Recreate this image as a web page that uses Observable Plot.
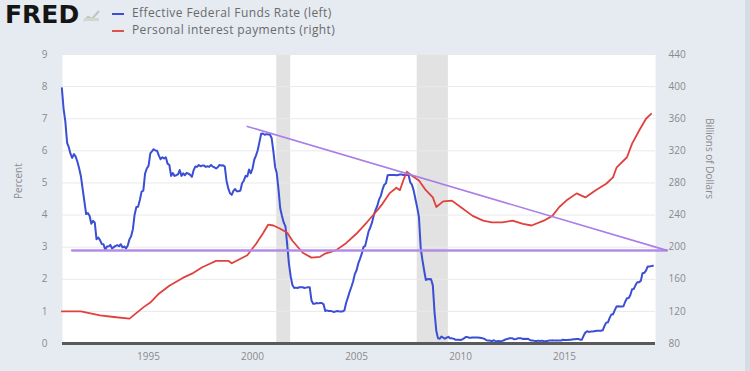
<!DOCTYPE html>
<html><head><meta charset="utf-8">
<script src="https://cdn.jsdelivr.net/npm/d3@7"></script>
<script src="https://cdn.jsdelivr.net/npm/@observablehq/plot@0.6"></script>
<style>
body{margin:0;background:#e6ebf2;}
#wrap{position:relative;width:750px;height:371px;background:#e6ebf2;overflow:hidden;font-family:"Open Sans",sans-serif;}
#strip{position:absolute;left:745px;top:0;width:5px;height:371px;background:#d6dce4;}
#logo{position:absolute;left:5px;top:0px;font:bold 25px "DejaVu Sans",sans-serif;color:#151515;letter-spacing:0px;}
#icon{position:absolute;left:83px;top:8px;}
.leg{position:absolute;left:112px;font-size:12px;letter-spacing:0.4px;color:#6a6a6a;line-height:14px;white-space:nowrap;}
.sw{display:inline-block;width:12px;height:2px;vertical-align:middle;margin-right:8px;}
#chart{position:absolute;left:0;top:45px;}
</style></head>
<body>
<div id="wrap">
  <div id="strip"></div>
  <div id="logo">FRED</div>
  <svg id="icon" width="18" height="14"><path d="M1 13 L5 9 L9 11 L16 3" fill="none" stroke="#bcc6bc" stroke-width="2"/><rect x="1" y="10" width="15" height="3" fill="#d2d8d0"/></svg>
  <div class="leg" style="top:6px"><span class="sw" style="background:#3a4fd4"></span>Effective Federal Funds Rate (left)</div>
  <div class="leg" style="top:23px"><span class="sw" style="background:#e0504a"></span>Personal interest payments (right)</div>
  <div id="chart"></div>
</div>
<script>
// Effective Federal Funds Rate, percent, monthly starting Nov 1990
const fedFundsStart = [1990, 10];
const fedFunds = [
  7.95, 7.31,
  6.91, 6.25, 6.12, 5.91, 5.78, 5.90, 5.82, 5.66, 5.45, 5.21, 4.81, 4.43,
  4.03, 4.06, 3.98, 3.73, 3.82, 3.76, 3.25, 3.30, 3.22, 3.10, 3.09, 2.92,
  3.02, 3.03, 3.07, 2.96, 3.00, 3.04, 3.06, 3.03, 3.09, 2.99, 3.02, 2.96,
  3.05, 3.25, 3.34, 3.56, 4.01, 4.25, 4.26, 4.47, 4.73, 4.76, 5.29, 5.45,
  5.53, 5.92, 5.98, 6.05, 6.01, 6.00, 5.85, 5.74, 5.80, 5.76, 5.80, 5.60,
  5.56, 5.22, 5.31, 5.22, 5.24, 5.27, 5.40, 5.22, 5.30, 5.24, 5.31, 5.29,
  5.25, 5.19, 5.39, 5.51, 5.50, 5.56, 5.52, 5.54, 5.54, 5.50, 5.52, 5.50,
  5.56, 5.51, 5.49, 5.45, 5.49, 5.56, 5.54, 5.55, 5.51, 5.07, 4.83, 4.68,
  4.63, 4.76, 4.81, 4.74, 4.74, 4.76, 4.99, 5.07, 5.22, 5.20, 5.42, 5.30,
  5.45, 5.73, 5.85, 6.02, 6.27, 6.53, 6.54, 6.50, 6.52, 6.51, 6.51, 6.40,
  5.98, 5.49, 5.31, 4.80, 4.21, 3.97, 3.77, 3.65, 3.07, 2.49, 2.09, 1.82,
  1.73, 1.74, 1.73, 1.75, 1.75, 1.75, 1.73, 1.74, 1.75, 1.75, 1.34, 1.24,
  1.24, 1.26, 1.25, 1.26, 1.26, 1.22, 1.01, 1.03, 1.01, 1.01, 1.00, 0.98,
  1.00, 1.01, 1.00, 1.00, 1.00, 1.03, 1.26, 1.43, 1.61, 1.76, 1.93, 2.16,
  2.28, 2.50, 2.63, 2.79, 3.00, 3.04, 3.26, 3.50, 3.62, 3.78, 4.00, 4.16,
  4.29, 4.49, 4.59, 4.79, 4.94, 4.99, 5.24, 5.25, 5.25, 5.25, 5.25, 5.24,
  5.25, 5.26, 5.26, 5.25, 5.25, 5.25, 5.26, 5.02, 4.94, 4.76, 4.49, 4.24,
  3.94, 2.98, 2.61, 2.28, 1.98, 2.00, 2.01, 2.00, 1.81, 0.97, 0.39, 0.16,
  0.15, 0.22, 0.18, 0.15, 0.18, 0.21, 0.16, 0.16, 0.15, 0.12, 0.12, 0.12,
  0.11, 0.13, 0.16, 0.20, 0.20, 0.18, 0.18, 0.19, 0.19, 0.19, 0.19, 0.18,
  0.17, 0.16, 0.14, 0.10, 0.09, 0.09, 0.07, 0.10, 0.08, 0.07, 0.08, 0.07,
  0.08, 0.10, 0.13, 0.14, 0.16, 0.16, 0.16, 0.13, 0.14, 0.16, 0.16, 0.16,
  0.14, 0.15, 0.14, 0.15, 0.11, 0.09, 0.09, 0.08, 0.08, 0.09, 0.08, 0.09,
  0.07, 0.07, 0.08, 0.09, 0.09, 0.10, 0.09, 0.09, 0.09, 0.09, 0.09, 0.12,
  0.11, 0.11, 0.11, 0.12, 0.12, 0.13, 0.13, 0.14, 0.14, 0.12, 0.12, 0.24,
  0.34, 0.38, 0.36, 0.37, 0.37, 0.38, 0.39, 0.40, 0.40, 0.40, 0.41, 0.54,
  0.65, 0.66, 0.79, 0.90, 0.91, 1.04, 1.15, 1.16, 1.15, 1.15, 1.16, 1.30,
  1.41, 1.42, 1.51, 1.69, 1.70, 1.82, 1.91, 1.91, 1.95, 2.19, 2.20, 2.27,
  2.40, 2.40, 2.41, 2.42
];

// Personal interest payments, billions of dollars
const interestDates = ["1990-11","1991-10","1992-09","1993-05","1994-02","1994-10","1995-02","1995-07","1996-01","1996-09","1997-02","1997-08","1998-01","1998-04","1998-11","1999-01","1999-10","2000-03","2000-07","2000-10","2001-01","2001-05","2001-09","2001-12","2002-06","2002-11","2003-04","2003-07","2004-01","2004-07","2005-01","2005-07","2006-01","2006-04","2006-08","2006-12","2007-02","2007-04","2007-06","2007-09","2008-01","2008-05","2008-09","2008-11","2009-03","2009-08","2010-01","2010-08","2011-02","2011-07","2012-01","2012-07","2013-01","2013-06","2014-01","2014-06","2014-10","2015-02","2015-08","2016-01","2016-07","2017-01","2017-05","2017-07","2018-01","2018-04","2018-08","2018-12","2019-03"];
const interestValues = [120,120,115,113,111,125,131,142,152,162,167,175,180,183,183,180,190,204,217,228,227,223,218,208,193,187,188,192,196,205,217,231,246,254,267,274,271,283,294,289,283,271,262,250,257,258,250,239,233,231,231,233,229,227,233,239,250,258,267,262,271,279,287,299,312,329,345,360,366];

// Recessions
const recessionStarts = ["2001-03", "2007-12"];
const recessionEnds = ["2001-11", "2009-06"];

// Drawn trend lines (percent scale)
const flatLineDates = ["1991-05", "2019-12"];
const flatLineValues = [2.9, 2.9];
const slopeLineDates = ["1999-10", "2019-12"];
const slopeLineValues = [6.76, 2.9];

// Axis ticks
const leftTicks = [0, 1, 2, 3, 4, 5, 6, 7, 8, 9];
const rightTicks = [80, 120, 160, 200, 240, 280, 320, 360, 400, 440];
const xTickYears = [1995, 2000, 2005, 2010, 2015];

const ym = s => { const [y, m] = s.split("-").map(Number); return new Date(Date.UTC(y, m - 1, 1)); };
const blue = fedFunds.map((v, i) => ({date: new Date(Date.UTC(fedFundsStart[0], fedFundsStart[1] + i, 1)), v}));
const red = interestDates.map((d, i) => ({date: ym(d), v: interestValues[i]}));
const rec = recessionStarts.map((s, i) => ({start: ym(s), end: ym(recessionEnds[i])}));
const flat = flatLineDates.map((d, i) => ({date: ym(d), v: flatLineValues[i]}));
const slope = slopeLineDates.map((d, i) => ({date: ym(d), v: slopeLineValues[i]}));
const toLeft = v => (v - rightTicks[0]) * (leftTicks[1] - leftTicks[0]) / (rightTicks[1] - rightTicks[0]);

const chart = Plot.plot({
  width: 750, height: 326,
  marginTop: 9, marginBottom: 28, marginLeft: 62, marginRight: 95,
  style: {background: "transparent", fontFamily: "'Open Sans', sans-serif", fontSize: "10px", color: "#8a8a8a"},
  x: {type: "utc", domain: [new Date(Date.UTC(1990, 10, 12)), new Date(Date.UTC(2019, 4, 17))], axis: null},
  y: {domain: [0, 9], axis: null},
  marks: [
    Plot.frame({fill: "white", stroke: "none"}),
    Plot.rect(rec, {x1: "start", x2: "end", fill: "#e2e2e2"}),
    Plot.gridY(leftTicks.slice(1), {stroke: "#e9e9e9", strokeOpacity: 1}),
    Plot.axisX(xTickYears.map(y => new Date(Date.UTC(y, 0, 1))), {tickSize: 0, tickPadding: 9, tickFormat: d3.utcFormat("%Y"), label: null}),
    Plot.axisY(leftTicks, {anchor: "left", tickSize: 0, tickPadding: 15, label: null}),
    Plot.axisY(leftTicks, {anchor: "right", tickSize: 0, tickPadding: 13, label: null, tickFormat: d => rightTicks[leftTicks.indexOf(d)], textAnchor: "start"}),
    Plot.ruleY([0], {stroke: "#5a5a5a", strokeWidth: 3}),
    Plot.line(blue, {x: "date", y: "v", stroke: "#3a4fd4", strokeWidth: 2}),
    Plot.line(red, {x: "date", y: d => toLeft(d.v), stroke: "#e0403e", strokeWidth: 1.8}),
    Plot.line(flat, {x: "date", y: "v", stroke: "#b48ce8", strokeWidth: 2.5}),
    Plot.line(slope, {x: "date", y: "v", stroke: "#a97ee6", strokeWidth: 1.6}),
    Plot.text(["Percent"], {frameAnchor: "left", rotate: -90, dx: -44, fill: "#8a8a8a", fontSize: 10}),
    Plot.text(["Billions of Dollars"], {frameAnchor: "right", rotate: 90, dx: 54, fill: "#8a8a8a", fontSize: 10})
  ]
});
document.getElementById("chart").appendChild(chart);
</script>
</body></html>
